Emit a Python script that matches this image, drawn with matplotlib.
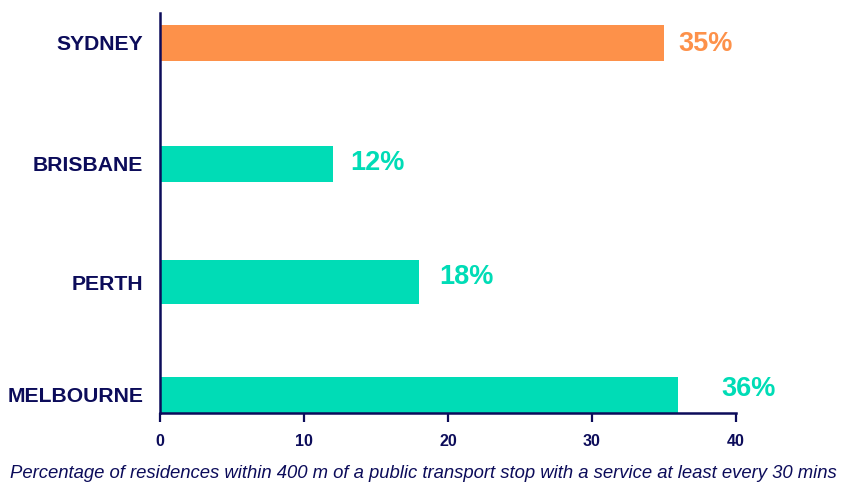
import matplotlib
matplotlib.use("Agg")
import matplotlib.pyplot as plt

# Data
cities = ["MELBOURNE", "PERTH", "BRISBANE", "SYDNEY"]
shares = [36, 18, 12, 35]
value_labels = ["36%", "18%", "12%", "35%"]
x_ticks = [0, 10, 20, 30, 40]
x_title = ("Percentage of residences within 400 m of a public transport stop "
           "with a service at least every 30 mins")

# Layout / style
NAVY = "#0c0c5a"
TEAL = "#00dcb6"
ORANGE = "#fd914a"
bar_colors = [TEAL, TEAL, TEAL, ORANGE]
y_pos = [0, 113, 231, 352]          # bar centres (axis units = pixels)
bar_heights = [36, 44, 36, 36]
label_dx = [43, 20, 17, 14]         # px gap between bar end and value label
label_dy = [6, 5, 1, -1]            # px lift of value label

plt.rcParams["font.family"] = ["Liberation Sans", "DejaVu Sans"]

fig = plt.figure(figsize=(8.57, 4.82), dpi=100)
ax = fig.add_axes([160 / 857, (482 - 413) / 482, 576 / 857, 400 / 482])

ax.barh(y_pos, shares, height=bar_heights, color=bar_colors, zorder=2)

px = 0.72  # points per pixel at 100 dpi
for y, v, lab, c, dx, dy in zip(y_pos, shares, value_labels, bar_colors, label_dx, label_dy):
    ax.annotate(lab, xy=(v, y), xytext=(dx * px, dy * px), textcoords="offset points",
                ha="left", va="center", fontsize=19.5, fontweight="bold", color=c)

ax.set_xlim(0, 40)
ax.set_ylim(-18, 382)
ax.set_xticks(x_ticks)
ax.set_xticklabels([str(t) for t in x_ticks])
ax.set_yticks(y_pos)
ax.set_yticklabels(cities)

for side in ("top", "right"):
    ax.spines[side].set_visible(False)
for side in ("left", "bottom"):
    ax.spines[side].set_color(NAVY)
    ax.spines[side].set_linewidth(1.8)

ax.tick_params(axis="x", colors=NAVY, length=6.5, width=1.6, pad=8.5, labelsize=11.5)
ax.tick_params(axis="y", colors=NAVY, length=0, pad=12, labelsize=15.2)
for t in ax.get_xticklabels() + ax.get_yticklabels():
    t.set_fontweight("bold")
    t.set_color(NAVY)

fig.text(423 / 857, 1 - 474 / 482, x_title, ha="center", va="center",
         fontsize=13.3, style="italic", color=NAVY)

fig.savefig("out.png", dpi=100, facecolor="white")
